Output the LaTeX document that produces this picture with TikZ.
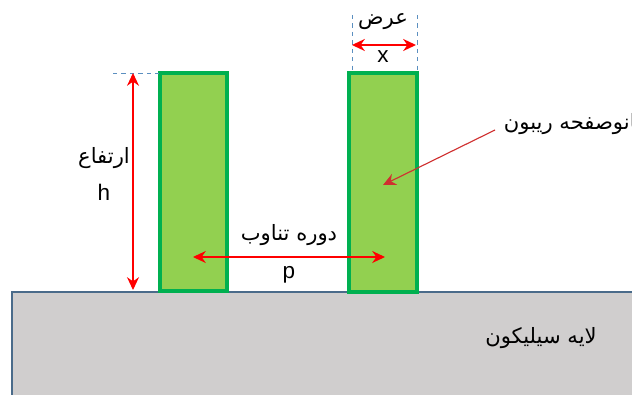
\documentclass[tikz,border=0pt]{standalone}
\usepackage{fontspec}
\setmainfont{Liberation Sans}
\newfontfamily\arabicfont[Script=Arabic]{DejaVu Sans}
\TeXXeTstate=1
\usetikzlibrary{arrows.meta}

\definecolor{finfill}{HTML}{92D050}
\definecolor{finedge}{HTML}{00B050}
\definecolor{sifill}{HTML}{D0CECE}
\definecolor{siedge}{HTML}{4A6B8A}
\definecolor{guideblue}{HTML}{5B8FC0}
\definecolor{dimred}{HTML}{FF0000}
\definecolor{pointred}{HTML}{D03030}

\begin{document}
\begin{tikzpicture}[
    x=0.025cm, y=-0.025cm,
    >={Stealth[length=3.2mm, width=3mm]},
    fin/.style={draw=finedge, fill=finfill, line width=2.2pt},
    silayer/.style={draw=siedge, fill=sifill, line width=2pt},
    guide/.style={draw=guideblue, dashed, line width=0.4pt},
    dimline/.style={<->, color=dimred, line width=0.8pt},
    fatext/.style={font=\arabicfont\fontsize{15}{18}\selectfont},
    latext/.style={font=\fontsize{16}{19}\selectfont}
  ]
  \useasboundingbox (0,0) rectangle (632,395);
  \fill[white] (0,0) rectangle (632,395);

  % silicon layer and the two fins
  \draw[silayer] (12,292) rectangle (680,440);
  \draw[fin] (160,73) rectangle (227,291);
  \draw[fin] (349,73) rectangle (417,292);

  % guides
  \coordinate (hTop) at (133,73);
  \coordinate (hBot) at (133,290);
  \coordinate (wL) at (352,45);
  \coordinate (wR) at (416,45);
  \coordinate (pL) at (193,257);
  \coordinate (pR) at (385,257);
  \coordinate (tipS) at (495,130);
  \coordinate (tipE) at (383,185);
  \draw[guide] (113,73) -- (160,73);
  \draw[guide] (352,15) -- (352,73);
  \draw[guide] (417,15) -- (417,73);

  % dimensions
  \draw[dimline] (hTop) -- (hBot);
  \draw[dimline, line width=1.5pt] (wL) -- (wR);
  \draw[dimline] (pL) -- (pR);
  \draw[->, color=pointred, line width=0.8pt] (tipS) -- (tipE);

  % labels
  \node[fatext] (hFa) at (104,158) {\beginR ارتفاع\endR};
  \node[latext] (hLa) at (104,192) {h};
  \node[fatext] (wFa) at (383,22) {\beginR عرض\endR};
  \node[latext] (wLa) at (383,57) {x};
  \node[fatext] (pFa) at (289,235) {\beginR دوره تناوب\endR};
  \node[latext] (pLa) at (289,275) {p};
  \node[fatext, anchor=west] (nsFa) at (499,124)
    {\beginR نانوصفحه ریبون\endR};
  \node[fatext] (siFa) at (541,338) {\beginR لایه سیلیکون\endR};
\end{tikzpicture}
\end{document}
